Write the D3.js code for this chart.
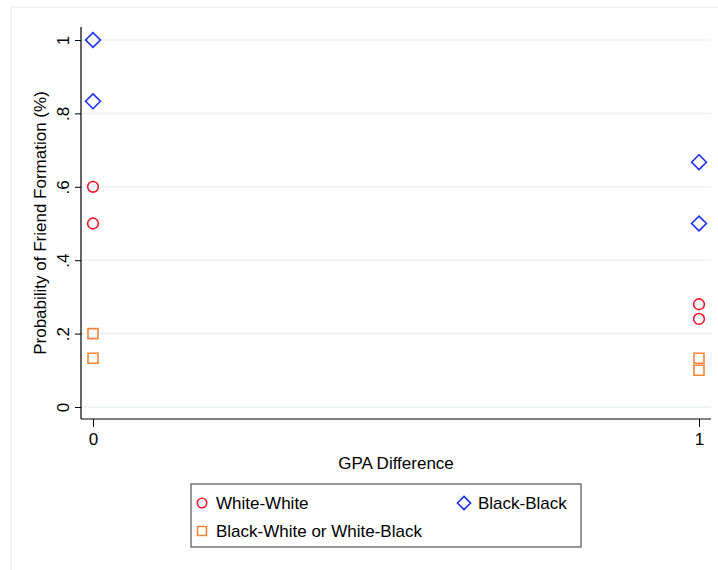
<!DOCTYPE html>
<html>
<head>
<meta charset="utf-8">
<script src="https://cdn.jsdelivr.net/npm/d3@7"></script>
<style>
  body { margin: 0; background: #fff; }
  text { font-family: "Liberation Sans", Arial, Helvetica, sans-serif; fill: #000; }
</style>
</head>
<body>
<div id="chart"></div>
<script>
// data
const gpaDiff = [0, 1];
const whiteWhite = [[0, 0.6], [0, 0.5], [1, 0.28], [1, 0.24]];
const blackBlack = [[0, 1.0], [0, 0.833], [1, 0.667], [1, 0.5]];
const mixed = [[0, 0.2], [0, 0.133], [1, 0.133], [1, 0.1]];
const yTicks = [0, 0.2, 0.4, 0.6, 0.8, 1];

const width = 718, height = 570;
const svg = d3.select('#chart').append('svg')
    .attr('width', width)
    .attr('height', height);

// faint outer frame
svg.append('rect')
    .attr('x', 11).attr('y', 7)
    .attr('width', 720).attr('height', 580)
    .attr('fill', 'none')
    .attr('stroke', '#eef0f0')
    .attr('stroke-width', 1.5);

const x = d3.scaleLinear().domain([0, 1]).range([93, 699]);
const y = d3.scaleLinear().domain([0, 1]).range([407, 40]);

const axisLeftX = 81, axisBottomY = 419, plotRight = 711, plotTop = 27;

// gridlines
svg.append('g')
    .selectAll('line')
    .data(yTicks)
    .join('line')
    .attr('x1', axisLeftX).attr('x2', plotRight)
    .attr('y1', d => y(d)).attr('y2', d => y(d))
    .attr('stroke', '#eaf1f2')
    .attr('stroke-width', 1.5);

// y axis
const yAxis = svg.append('g')
    .attr('transform', `translate(${axisLeftX},0)`)
    .call(d3.axisLeft(y).tickValues(yTicks).tickSize(6).tickSizeOuter(0)
        .tickFormat(d => d === 0 ? '0' : d === 1 ? '1' : d3.format('.1f')(d).replace(/^0/, '')));
yAxis.select('.domain').remove();
yAxis.append('line')
    .attr('x1', 0).attr('x2', 0)
    .attr('y1', plotTop).attr('y2', axisBottomY)
    .attr('stroke', '#000').attr('stroke-width', 1.2);
yAxis.selectAll('.tick line').attr('stroke', '#000');
yAxis.selectAll('.tick text')
    .attr('x', 0).attr('y', 0).attr('dy', 0)
    .attr('transform', 'translate(-12,0) rotate(-90)')
    .attr('text-anchor', 'middle')
    .style('font-size', '17px')
    .style('font-family', '"Liberation Sans", Arial, sans-serif');

// x axis
const xAxis = svg.append('g')
    .attr('transform', `translate(0,${axisBottomY})`)
    .call(d3.axisBottom(x).tickValues(gpaDiff).tickSize(8).tickSizeOuter(0).tickFormat(d3.format('d')));
xAxis.select('.domain').remove();
xAxis.append('line')
    .attr('x1', axisLeftX).attr('x2', plotRight)
    .attr('y1', 0).attr('y2', 0)
    .attr('stroke', '#000').attr('stroke-width', 1.2);
xAxis.selectAll('.tick line').attr('stroke', '#000');
xAxis.selectAll('.tick text')
    .attr('y', 14)
    .style('font-size', '17px')
    .style('font-family', '"Liberation Sans", Arial, sans-serif');

// axis titles
svg.append('text')
    .attr('transform', 'translate(46,223) rotate(-90)')
    .attr('text-anchor', 'middle')
    .style('font-size', '17px')
    .text('Probability of Friend Formation (%)');

svg.append('text')
    .attr('x', 396).attr('y', 469)
    .attr('text-anchor', 'middle')
    .style('font-size', '17px')
    .text('GPA Difference');

// markers
const red = '#f01a2c', blue = '#1c30f5', orange = '#f5843a';
const symCircle = d3.symbol().type(d3.symbolCircle).size(90);
const symSquare = d3.symbol().type(d3.symbolSquare).size(100);
const symDiamond = d3.symbol().type(d3.symbolDiamond2).size(140);

const series = [
    { name: 'White-White', data: whiteWhite, color: red, sym: symCircle },
    { name: 'Black-Black', data: blackBlack, color: blue, sym: symDiamond },
    { name: 'Black-White or White-Black', data: mixed, color: orange, sym: symSquare }
];

series.forEach(s => {
    svg.append('g')
        .selectAll('path')
        .data(s.data)
        .join('path')
        .attr('transform', d => `translate(${x(d[0])},${y(d[1])})`)
        .attr('d', s.sym())
        .attr('fill', 'none')
        .attr('stroke', s.color)
        .attr('stroke-width', 1.6);
});

// legend
const legend = svg.append('g');
legend.append('rect')
    .attr('x', 191).attr('y', 484)
    .attr('width', 390).attr('height', 63)
    .attr('fill', '#fff')
    .attr('stroke', '#333')
    .attr('stroke-width', 1);

const legendPos = [[202, 503], [464, 503], [202, 531]];
const legendOrder = [series[0], series[1], series[2]];
legendOrder.forEach((s, i) => {
    const [lx, ly] = legendPos[i];
    const sym = s.sym === symDiamond ? d3.symbol().type(d3.symbolDiamond2).size(110)
        : s.sym === symSquare ? d3.symbol().type(d3.symbolSquare).size(80)
        : d3.symbol().type(d3.symbolCircle).size(70);
    legend.append('path')
        .attr('transform', `translate(${lx},${ly})`)
        .attr('d', sym())
        .attr('fill', 'none')
        .attr('stroke', s.color)
        .attr('stroke-width', 1.6);
    legend.append('text')
        .attr('x', lx + 14).attr('y', ly + 6)
        .style('font-size', '17px')
        .text(s.name);
});
</script>
</body>
</html>
